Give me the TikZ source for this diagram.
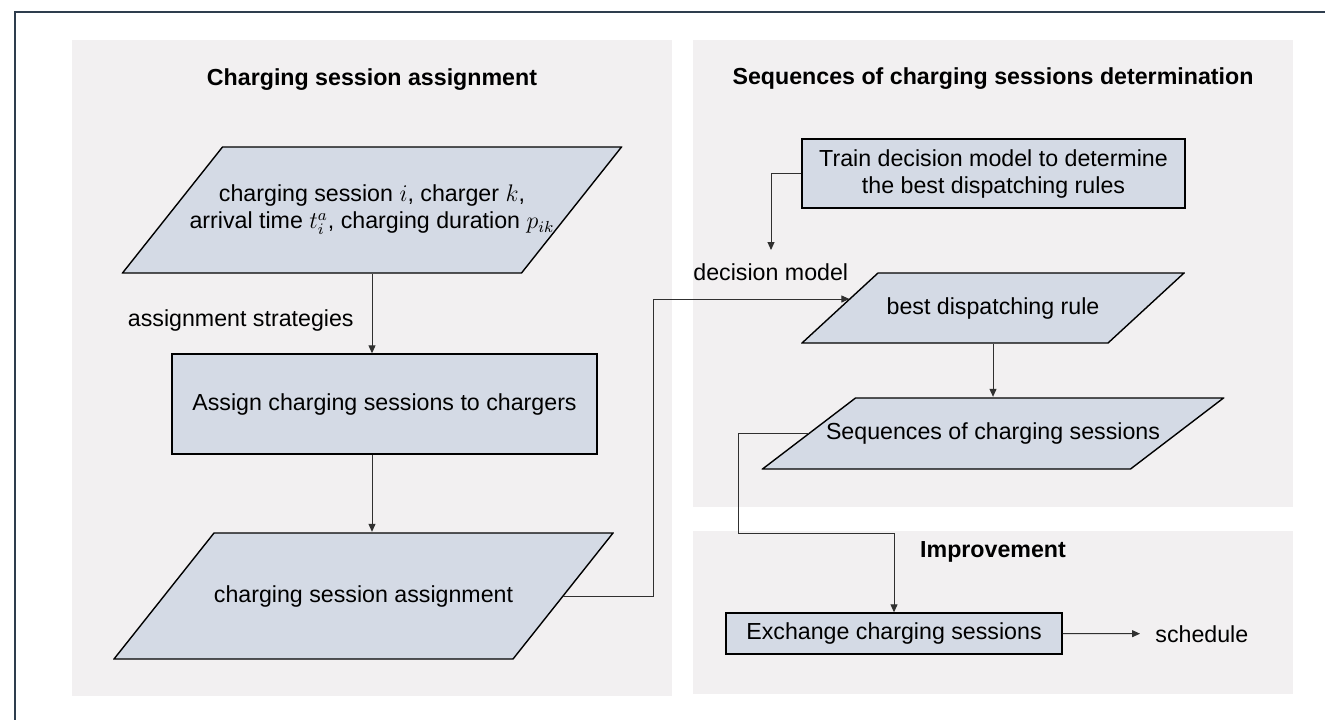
\documentclass[tikz,border=0pt]{standalone}
\usepackage{fontspec}
\setmainfont{Liberation Sans}
\usepackage{amsmath}
\usepackage{tikz}
\usetikzlibrary{arrows.meta, positioning, calc}
\definecolor{panelcolor}{HTML}{F2F0F1}
\definecolor{boxcolor}{HTML}{D4DAE5}
\definecolor{framecolor}{HTML}{2E3D4D}
\definecolor{linecolor}{HTML}{303030}

\begin{document}
\begin{tikzpicture}[
    x=0.5pt, y=-0.5pt,
    proc/.style={draw, line width=0.7pt, fill=boxcolor, font=\fontsize{11.6}{13.5}\selectfont, align=center, inner sep=0pt},
    data/.style={rectangle, inner sep=0pt, font=\fontsize{11.6}{13.5}\selectfont, align=center,
        path picture={
            \draw[draw=black, line width=0.7pt, fill=boxcolor]
                ($(path picture bounding box.south west)+(0.4pt,0.4pt)$)
             -- ($(path picture bounding box.south east)+(-#1-0.4pt,0.4pt)$)
             -- ($(path picture bounding box.north east)+(-0.4pt,-0.4pt)$)
             -- ($(path picture bounding box.north west)+(#1+0.4pt,-0.4pt)$) -- cycle;
        }},
    ttl/.style={font=\fontsize{11.6}{14}\selectfont\bfseries, inner sep=0pt},
    lbl/.style={font=\fontsize{11.6}{14}\selectfont, inner sep=0pt},
    conn/.style={draw=linecolor, line width=0.5pt, -{Triangle[length=4pt,width=3.5pt]}}
]
    \useasboundingbox (0,0) rectangle (1325,719);
    % --- frame and panels ---
    \begin{scope}
        \clip (0,0) rectangle (1325,719);
        \draw[framecolor, line width=1pt] (15,12) rectangle (1400,800);
    \end{scope}
    \fill[panelcolor] (72,40) rectangle (672,696);
    \fill[panelcolor] (693,40) rectangle (1293,507);
    \fill[panelcolor] (693,531) rectangle (1293,694);

    % --- Charging session assignment ---
    \node[ttl, anchor=base] (t1) at (372,85) {Charging session assignment};
    \node[data=50pt, minimum width=250.3pt, minimum height=63.8pt] (p1) at (372,210)
          {charging session $i$, charger $k$,\\ arrival time $t_i^a$, charging duration $p_{ik}$};
    \node[proc, minimum width=212.5pt, minimum height=50pt] (assign) at (384.5,404)
          {Assign charging sessions to chargers};
    \node[data=50pt, minimum width=250.3pt, minimum height=63.8pt] (p2) at (363.5,596)
          {charging session assignment};
    \node[lbl, anchor=base east] (strat) at (354,326) {assignment strategies};

    % --- Sequences of charging sessions determination ---
    \node[ttl, anchor=base] (t2) at (993,84) {Sequences of charging sessions determination};
    \node[proc, minimum width=191.5pt, minimum height=34.5pt] (train) at (993.5,173.5)
          {Train decision model to determine\\ the best dispatching rules};
    \coordinate (dm) at (771,250);
    \node[lbl, anchor=base west] (dmodel) at (693,280) {decision model};
    \node[data=38pt, minimum width=191.8pt, minimum height=35.8pt] (best) at (993,308)
          {best dispatching rule};
    \node[data=46.5pt, minimum width=231.3pt, minimum height=36.3pt] (seq) at (993,433.5)
          {Sequences of charging sessions};

    % --- Improvement ---
    \node[ttl, anchor=base] (t3) at (993,557) {Improvement};
    \node[proc, minimum width=168pt, minimum height=20.5pt] (ex) at (894,633.5)
          {Exchange charging sessions};
    \node[lbl, anchor=base west] (sched) at (1155,642) {schedule};

    % --- connectors ---
    \coordinate (p2out) at ($(p2.east)+(-25.4pt,0)$);
    \coordinate (seqout) at ($(seq.west)+(23.6pt,0)$);
    \coordinate (bestin) at ($(best.west)+(24.3pt,4.5pt)$);
    \coordinate (bend) at (738,533);
    \draw[conn] (p1.south) -- (p1.south |- assign.north);
    \draw[conn] (p1.south |- assign.south) -- (p1.south |- p2.north);
    \draw[conn] (p2out) -- ++(90,0) |- (bestin);
    \draw[conn] (train.west) -| (dm);
    \draw[conn] (best.south) -- (seq.north);
    \draw[conn] (seqout) -| (bend) -| (ex.north);
    \draw[conn, shorten >=7.5pt] (ex.east) -- (sched.west);
\end{tikzpicture}
\end{document}
